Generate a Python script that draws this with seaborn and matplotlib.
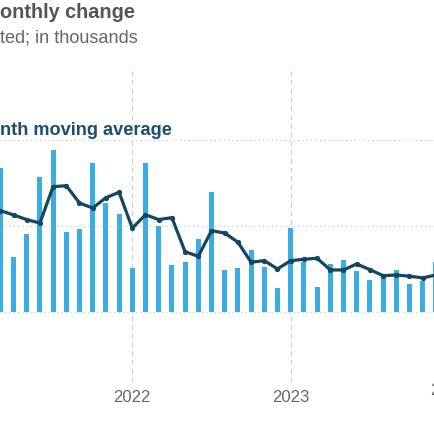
import matplotlib
matplotlib.use("Agg")
import matplotlib.pyplot as plt
import seaborn as sns
import pandas as pd
import numpy as np

# monthly change, in thousands (Mar 2021 - Dec 2023)
months = pd.date_range("2021-03-01", "2023-12-01", freq="MS")
monthly_change = [834, 322, 454, 782, 942, 467, 483, 863, 633, 570,
                  255, 865, 498, 274, 290, 425, 695, 247, 257, 363, 261, 139,
                  487, 290, 148, 280, 305, 241, 187, 212, 247, 164, 183, 290]
moving_avg = [589, 564, 537, 517, 728, 733, 633, 604, 664, 695,
              487, 565, 537, 548, 351, 324, 473, 459, 406, 290, 299, 251,
              299, 307, 313, 245, 245, 280, 247, 212, 216, 209, 199, 216]
year_ticks = ["2022", "2023", "2024"]

title_txt = "onthly change"
subtitle_txt = "ted; in thousands"
legend_txt = "nth moving average"

bar_color = "#3aaee2"
line_color = "#15465f"

sns.set_style("white")
plt.rcParams["font.family"] = ["Liberation Sans", "DejaVu Sans"]

labels = months.strftime("%Y-%m")
df = pd.DataFrame({"month": labels, "change": monthly_change, "avg": moving_avg})
df["i"] = np.arange(len(df))

W = 435
fig = plt.figure(figsize=(4.35, 4.35), dpi=100)
# plot area: px 0..435 horizontally, 68..383 from top vertically
ax = fig.add_axes([0, 1 - 383 / W, 1, 315 / W])

sns.barplot(data=df, x="month", y="change", order=list(labels), width=0.38,
            color=bar_color, saturation=1, errorbar=None, ax=ax)
for p in ax.patches:
    p.set_linewidth(0)
    p.set_edgecolor("none")
sns.lineplot(data=df, x="i", y="avg", color=line_color, linewidth=2.3,
             marker="o", markersize=3.8, markeredgewidth=0, ax=ax)

# Jan 2022 is category 10; one month = 13.2 px
jan22 = list(labels).index("2022-01")
px_per_month = 13.2
ax.set_xlim(jan22 - 132.3 / px_per_month, jan22 + (435 - 132.3) / px_per_month)
ax.set_ylim(-404, 1421)

tick_idx = [jan22 + 12 * k for k in range(len(year_ticks))]
ax.set_xticks(tick_idx[:2])
ax.set_xticklabels(year_ticks[:2])
ax.set_yticks([0, 500, 1000])
ax.set_yticklabels([])
ax.set_xlabel("")
ax.set_ylabel("")

ax.tick_params(axis="x", length=0, pad=5, labelsize=12, labelcolor="#666666")
ax.tick_params(axis="y", length=0)
ax.grid(axis="y", linestyle=(0, (1, 2.5)), color="#c8c8c8", linewidth=0.9)
ax.grid(axis="x", linestyle=(0, (4, 3)), color="#d0d0d0", linewidth=0.9)
ax.set_axisbelow(True)
sns.despine(ax=ax, left=True, bottom=True)

# last year label sits past the right edge, as in the source crop
ax.text(tick_idx[2], -404, year_ticks[2], transform=ax.transData,
        fontsize=12, color="#666666", ha="center", va="top", clip_on=False)

fig.text(0, 1 - 18.3 / W, title_txt, fontsize=14.3, fontweight="bold",
         color="#555555", ha="left", va="baseline")
fig.text(0, 1 - 42.7 / W, subtitle_txt, fontsize=13.1, color="#666666",
         ha="left", va="baseline")
fig.text(0, 1 - 135 / W, legend_txt, fontsize=13.1, fontweight="bold",
         color="#1b4f6d", ha="left", va="baseline")

fig.savefig("out.png", dpi=100)
